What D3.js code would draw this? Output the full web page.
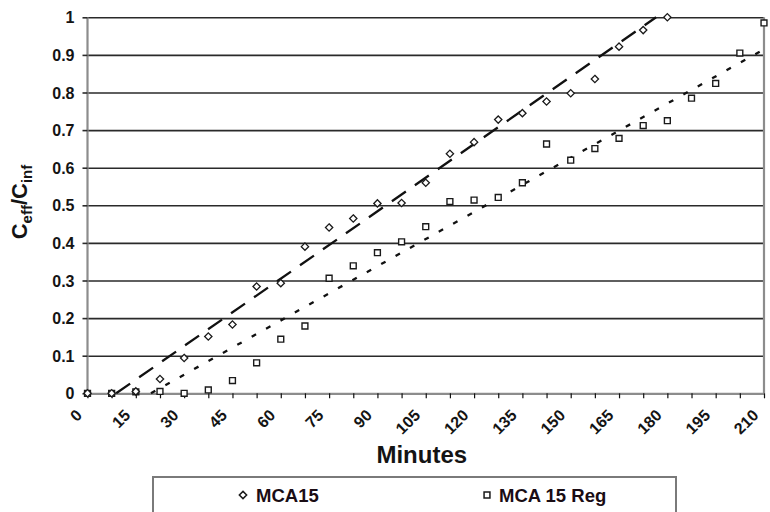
<!DOCTYPE html>
<html>
<head>
<meta charset="utf-8">
<script src="https://cdn.jsdelivr.net/npm/d3@7"></script>
<style>
  html, body { margin: 0; padding: 0; background: #fff; }
  svg { display: block; font-family: "Liberation Sans", Arial, sans-serif; }
</style>
</head>
<body>
<svg id="chart" width="770" height="512"></svg>
<script>
// ---- data ----
const minutes = [0, 7.5, 15, 22.5, 30, 37.5, 45, 52.5, 60, 67.5, 75, 82.5, 90, 97.5, 105,
  112.5, 120, 127.5, 135, 142.5, 150, 157.5, 165, 172.5, 180, 187.5, 195, 202.5, 210];
const mca15 = [0, 0, 0.005, 0.038, 0.094, 0.151, 0.183, 0.284, 0.293, 0.39, 0.441, 0.465,
  0.505, 0.506, 0.56, 0.637, 0.668, 0.728, 0.745, 0.776, 0.798, 0.836, 0.922, 0.966, 1.0];
const mca15Reg = [0, 0, 0.004, 0.005, 0, 0.009, 0.034, 0.081, 0.144, 0.179, 0.306, 0.339,
  0.374, 0.403, 0.443, 0.51, 0.514, 0.521, 0.56, 0.663, 0.62, 0.651, 0.678, 0.712, 0.725,
  0.785, 0.824, 0.905, 0.985];
// fitted trend lines (end points)
const trendMca15 = [[8.9, 0], [176.5, 1.0]];
const trendReg = [[19.7, 0], [210, 0.915]];
const xTickLabels = [0, 15, 30, 45, 60, 75, 90, 105, 120, 135, 150, 165, 180, 195, 210];
const yTicks = [0, 0.1, 0.2, 0.3, 0.4, 0.5, 0.6, 0.7, 0.8, 0.9, 1];
const seriesNames = ["MCA15", "MCA 15 Reg"];

// ---- layout ----
const svg = d3.select("#chart");
const pLeft = 87.5, pRight = 764, pTop = 17.3, pBottom = 393.3;
const x = d3.scaleLinear().domain([0, 210]).range([pLeft, pRight]);
const y = d3.scaleLinear().domain([0, 1]).range([pBottom, pTop]);
const ink = "#141414";

// gridlines
svg.append("g")
  .attr("transform", `translate(${pLeft},0)`)
  .call(d3.axisLeft(y).tickValues(yTicks).tickSize(-(pRight - pLeft)).tickFormat(""))
  .call(g => g.select(".domain").remove())
  .call(g => g.selectAll("line").attr("stroke", "#2a2a2a").attr("stroke-width", 1.6));

// plot border (left, right) in gray
svg.append("line").attr("x1", pLeft).attr("x2", pLeft).attr("y1", pTop).attr("y2", pBottom)
  .attr("stroke", "#8c8c8c").attr("stroke-width", 2.2);
svg.append("line").attr("x1", pRight).attr("x2", pRight).attr("y1", pTop).attr("y2", pBottom)
  .attr("stroke", "#8c8c8c").attr("stroke-width", 2.2);

// y axis
svg.append("g")
  .attr("transform", `translate(${pLeft},0)`)
  .call(d3.axisLeft(y).tickValues(yTicks).tickSize(5).tickPadding(8).tickFormat(d => String(d)))
  .call(g => g.select(".domain").remove())
  .call(g => g.selectAll("line").attr("stroke", "#2a2a2a").attr("stroke-width", 1.6))
  .call(g => g.selectAll("text").attr("fill", ink).attr("font-size", 16).attr("font-weight", "bold")
    .attr("font-family", "'Liberation Sans', Arial, sans-serif").attr("dy", "0.35em"));

// x axis
const xAxis = svg.append("g")
  .attr("transform", `translate(0,${pBottom})`)
  .call(d3.axisBottom(x).tickValues(minutes).tickSize(5).tickSizeOuter(0)
    .tickFormat(d => xTickLabels.includes(d) ? String(d) : ""));
xAxis.select(".domain").attr("stroke", "#8c8c8c").attr("stroke-width", 2.2);
xAxis.selectAll("line").attr("stroke", "#111").attr("stroke-width", 1.2);
xAxis.selectAll("text")
  .attr("fill", ink).attr("font-size", 16).attr("font-weight", "bold")
  .attr("font-family", "'Liberation Sans', Arial, sans-serif")
  .attr("text-anchor", "end").attr("y", 0).attr("dy", 0)
  .attr("transform", "translate(-5,23) rotate(-45)");

// trend lines
const line = d3.line().x(d => x(d[0])).y(d => y(d[1]));
svg.append("path").datum(trendMca15).attr("d", line)
  .attr("fill", "none").attr("stroke", "#111").attr("stroke-width", 2.3)
  .attr("stroke-dasharray", "17,11");
svg.append("path").datum(trendReg).attr("d", line)
  .attr("fill", "none").attr("stroke", "#111").attr("stroke-width", 2.3)
  .attr("stroke-dasharray", "5,11.5");

// markers
const diamond = d3.symbol().type(d3.symbolDiamond2).size(34);
const square = d3.symbol().type(d3.symbolSquare2).size(44);
svg.append("g").selectAll("path").data(mca15Reg).join("path")
  .attr("d", square)
  .attr("transform", (d, i) => `translate(${x(minutes[i])},${y(d)})`)
  .attr("fill", "#fff").attr("stroke", "#1a1a1a").attr("stroke-width", 1.4);
svg.append("g").selectAll("path").data(mca15).join("path")
  .attr("d", diamond)
  .attr("transform", (d, i) => `translate(${x(minutes[i])},${y(d)})`)
  .attr("fill", "#fff").attr("stroke", "#1a1a1a").attr("stroke-width", 1.3);

// axis titles
svg.append("text").attr("x", (pLeft + pRight) / 2 - 4).attr("y", 463)
  .attr("text-anchor", "middle").attr("font-size", 24).attr("font-weight", "bold").attr("fill", ink)
  .text("Minutes");

const yTitle = svg.append("text")
  .attr("transform", "translate(27,202) rotate(-90)")
  .attr("text-anchor", "middle").attr("font-size", 22).attr("font-weight", "bold").attr("fill", ink);
yTitle.append("tspan").text("C");
yTitle.append("tspan").attr("font-size", 15).attr("dy", 5).text("eff");
yTitle.append("tspan").attr("dy", -5).text("/C");
yTitle.append("tspan").attr("font-size", 15).attr("dy", 5).text("inf");

// legend
svg.append("rect").attr("x", 153).attr("y", 477).attr("width", 523).attr("height", 60)
  .attr("fill", "#fff").attr("stroke", "#7a7a7a").attr("stroke-width", 2);
const legendItems = [
  { name: seriesNames[0], sym: diamond, mx: 243, tx: 256 },
  { name: seriesNames[1], sym: square, mx: 487, tx: 499 }
];
const lg = svg.append("g").selectAll("g").data(legendItems).join("g");
lg.append("path").attr("d", d => d.sym())
  .attr("transform", d => `translate(${d.mx},495)`)
  .attr("fill", "#fff").attr("stroke", "#1a1a1a").attr("stroke-width", 1.5);
lg.append("text").attr("x", d => d.tx).attr("y", 501.5)
  .attr("font-size", 18.5).attr("font-weight", "bold").attr("fill", "#1a0d14")
  .text(d => d.name);
</script>
</body>
</html>
